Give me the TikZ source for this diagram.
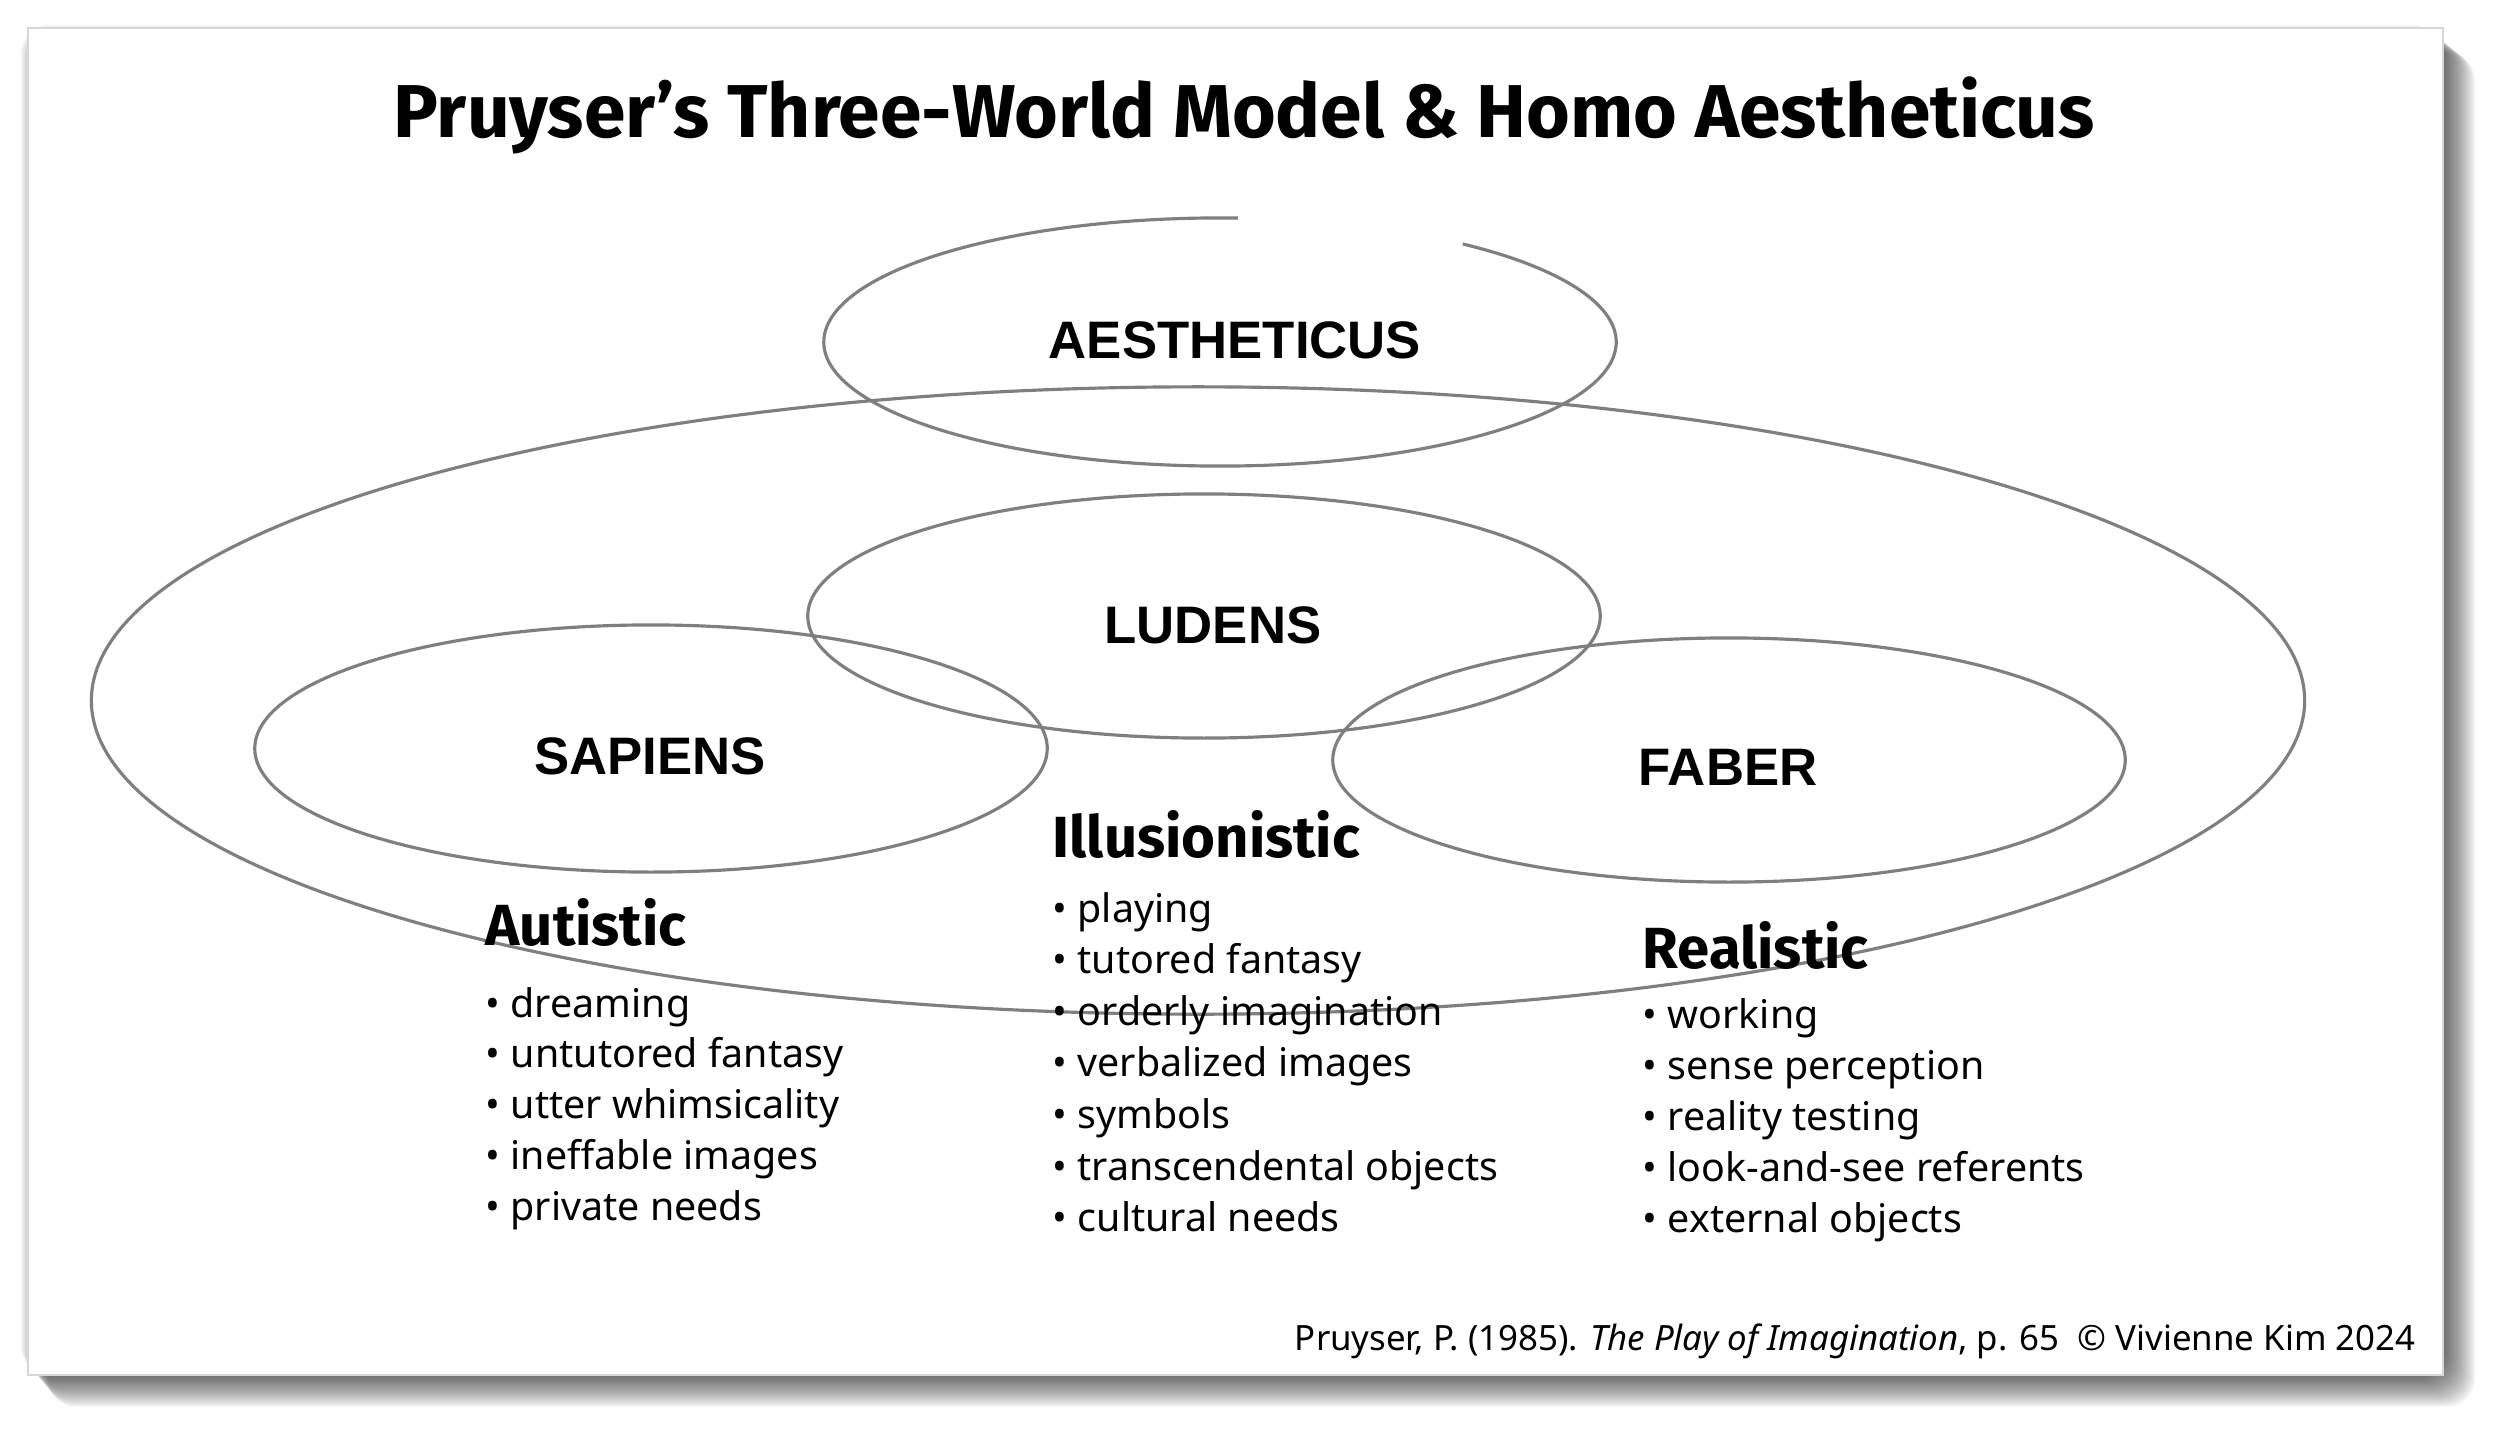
\documentclass[tikz,border=0pt]{standalone}
\usepackage{fontspec}
\setmainfont{Noto Sans}
\newfontfamily\headfont{Fira Sans}
\newfontfamily\worldfont{Liberation Sans}
\usetikzlibrary{positioning}
\definecolor{inkcolor}{HTML}{000000}
\definecolor{ringcolor}{HTML}{7F7F7F}
\definecolor{slideedge}{HTML}{D6D6D6}
\tikzset{
  world/.style={draw=ringcolor, line width=0.9pt},
  worldlabel/.style={font=\worldfont\bfseries\fontsize{15}{17}\selectfont, text=inkcolor, inner sep=0pt},
  heading/.style={anchor=base west, inner sep=0pt, font=\headfont\bfseries\fontsize{16.5}{19}\selectfont, text=inkcolor},
  item/.style={anchor=base west, inner sep=0pt, font=\fontsize{11.2}{13}\selectfont, text=inkcolor},
  note/.style={anchor=base east, inner sep=0pt, font=\fontsize{9.9}{12}\selectfont, text=inkcolor}
}

\begin{document}
\begin{tikzpicture}[x=0.01cm,y=-0.01cm]
  \useasboundingbox (0,0) rectangle (2500,1433);

  % Slide with its drop shadow.
  \foreach \k in {1,...,32}
    \fill[black, opacity=0.028, rounded corners=8pt]
      (20+0.9*\k,24+0.9*\k) rectangle (2440+1.1*\k,1372+1.1*\k);
  \fill[white, draw=slideedge, line width=0.4pt] (28,28) rectangle (2443,1375);

  \node[anchor=base, inner sep=0pt, font=\headfont\bfseries\fontsize{21.3}{25}\selectfont] (title) at (1244,137)
    {Pruyser’s Three-World Model \& Homo Aestheticus};

  % The worlds.
  \draw[world] (1198,700.5) ellipse [x radius=11.06cm, y radius=3.135cm];
  \draw[world] (1220,342) ++(87.4:3.96cm and 1.24cm)
    arc [start angle=87.4, end angle=412.2, x radius=3.96cm, y radius=1.24cm];
  \draw[world] (1204,616) ellipse [x radius=3.96cm, y radius=1.22cm];
  \draw[world] (651,748.5) ellipse [x radius=3.96cm, y radius=1.235cm];
  \draw[world] (1729,760) ellipse [x radius=3.96cm, y radius=1.22cm];

  \node[worldlabel] (aestheticus) at (1235,340) {AESTHETICUS};
  \node[worldlabel] (ludens) at (1213,625) {LUDENS};
  \node[worldlabel] (sapiens) at (650,756) {SAPIENS};
  \node[worldlabel] (faber) at (1728,767) {FABER};

  % Autistic column.
  \node[heading] (autistic) at (485,945) {Autistic};
  \foreach \txt [count=\i] in {dreaming, untutored fantasy, utter whimsicality,
      ineffable images, private needs}
    \node[item] (aut\i) at (485,{1017+50.8*(\i-1)}) {• \txt};

  % Illusionistic column.
  \node[heading] (illusionistic) at (1052,857) {Illusionistic};
  \foreach \txt [count=\i] in {playing, tutored fantasy, orderly imagination,
      verbalized images, symbols, transcendental objects, cultural needs}
    \node[item] (ill\i) at (1052,{922+51.6*(\i-1)}) {• \txt};

  % Realistic column.
  \node[heading] (realistic) at (1642,968) {Realistic};
  \foreach \txt [count=\i] in {working, sense perception, reality testing,
      look-and-see referents, external objects}
    \node[item] (real\i) at (1642,{1028+51.2*(\i-1)}) {• \txt};

  \node[note] (source) at (2416,1350)
    {Pruyser, P. (1985). \textit{The Play of Imagination}, p. 65\ \ © Vivienne Kim 2024};

\end{tikzpicture}
\end{document}
